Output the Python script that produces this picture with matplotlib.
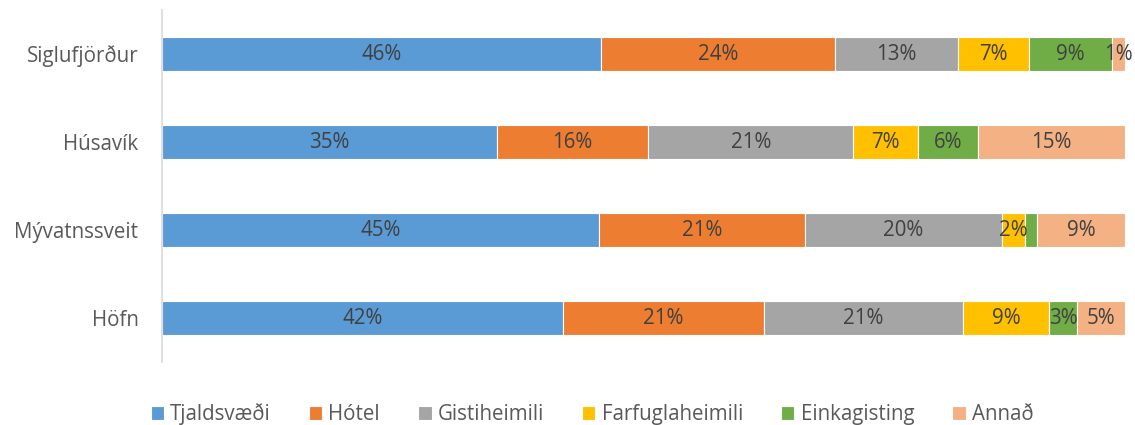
import numpy as np
import matplotlib.pyplot as plt

# Data (percent of guests per accommodation type)
places = ["Siglufjörður", "Húsavík", "Mývatnssveit", "Höfn"]
series = ["Tjaldsvæði", "Hótel", "Gistiheimili", "Farfuglaheimili", "Einkagisting", "Annað"]
tjaldsvaedi = [45.6, 34.8, 45.4, 41.6]
hotel = [24.3, 15.7, 21.4, 20.9]
gistiheimili = [12.8, 21.3, 20.4, 20.7]
farfuglaheimili = [7.3, 6.7, 2.4, 8.9]
einkagisting = [8.6, 6.2, 1.3, 2.9]
annad = [1.4, 15.3, 9.1, 5.0]
hidden_labels = [("Mývatnssveit", "Einkagisting")]

colors = ["#5B9BD5", "#ED7D31", "#A5A5A5", "#FFC000", "#70AD47", "#F4B183"]
font = ["Open Sans", "DejaVu Sans"]
plt.rcParams['font.family'] = font
fs = 14.8

fig = plt.figure(figsize=(11.35, 4.25), dpi=100)
ax = fig.add_axes([162 / 1135, 1 - 362 / 425, (1125 - 162) / 1135, 352 / 425])

data = [tjaldsvaedi, hotel, gistiheimili, farfuglaheimili, einkagisting, annad]
y = np.arange(len(places))
left = np.zeros(len(places))
for name, vals, col in zip(series, data, colors):
    vals = np.array(vals)
    bars = ax.barh(y, vals, left=left, height=0.39, color=col, edgecolor="white",
                   linewidth=0.8, label=name)
    for i, b in enumerate(bars):
        if (places[i], name) in hidden_labels:
            continue
        ax.text(left[i] + vals[i] / 2, y[i], "{}%".format(int(round(vals[i]))),
                ha="center", va="center", fontsize=fs, color="#404040")
    left += vals

ax.set_xlim(0, 100)
ax.set_ylim(3.5, -0.5)
ax.set_yticks(y)
ax.set_yticklabels(places, fontsize=fs, color="#595959")
ax.tick_params(axis="y", length=0, pad=17)
ax.set_xticks([])
for s in ["top", "right", "bottom"]:
    ax.spines[s].set_visible(False)
ax.spines["left"].set_color("#D9D9D9")
ax.spines["left"].set_linewidth(1.2)

fig.legend(loc="center", bbox_to_anchor=(592 / 1135, 1 - 414 / 425), ncol=6,
           frameon=False, fontsize=fs, handlelength=0.65, handleheight=0.65,
           handletextpad=0.3, columnspacing=1.85, labelcolor="#595959",
           borderpad=0.1)

fig.savefig("out.png", dpi=100)
